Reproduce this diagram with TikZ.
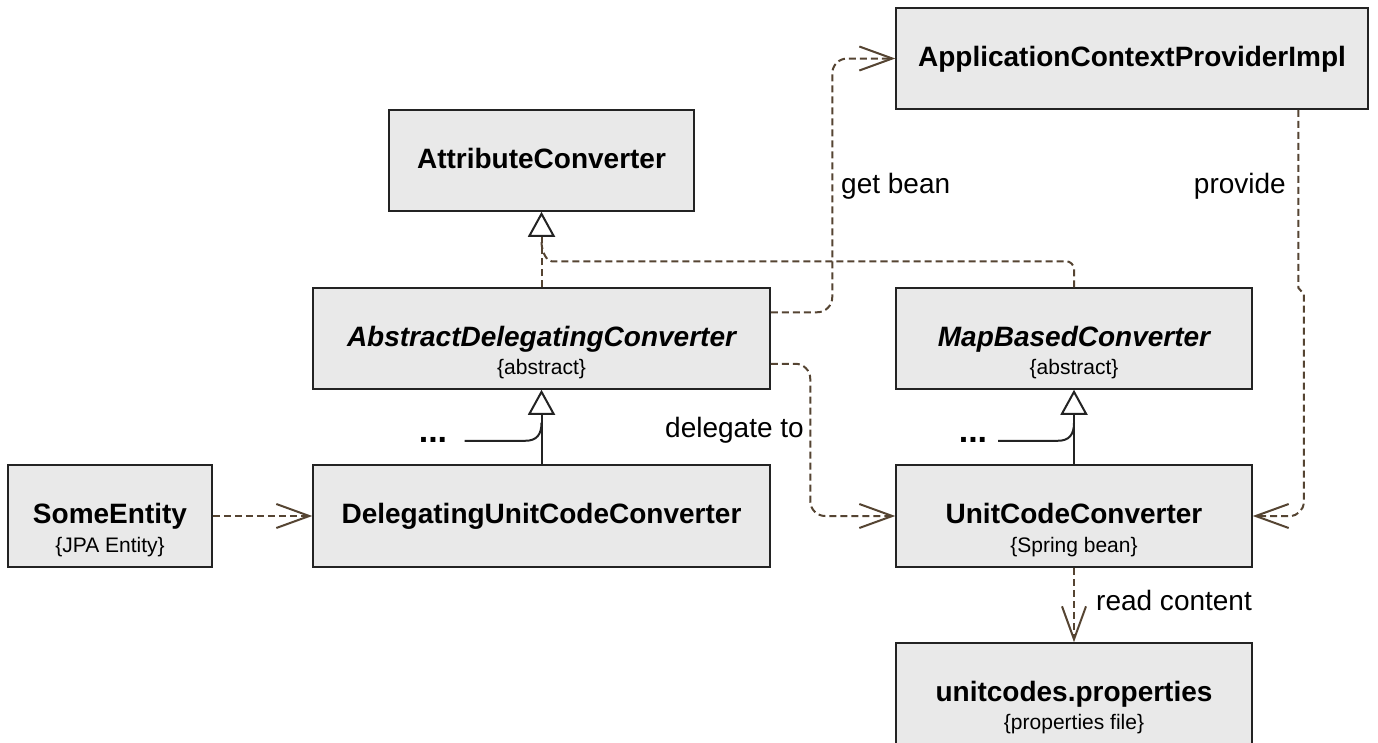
\documentclass[tikz,border=0pt]{standalone}
\usepackage{fontspec}
\setmainfont{Liberation Sans}
\usetikzlibrary{arrows.meta,calc}
\definecolor{boxfill}{RGB}{233,233,233}
\definecolor{boxline}{RGB}{35,35,35}
\definecolor{depcol}{RGB}{85,68,50}
\begin{document}
\begin{tikzpicture}[x=1pt,y=-1pt,
 box/.style={draw=boxline, fill=boxfill, line width=1.5pt, rectangle, inner sep=0pt},
 ttl/.style={font=\fontsize{28}{32}\selectfont\bfseries, anchor=base, inner sep=0pt},
 ster/.style={font=\fontsize{21}{24}\selectfont, anchor=base, inner sep=0pt},
 lbl/.style={font=\fontsize{28}{32}\selectfont, inner sep=0pt},
 dep/.style={draw=depcol, line width=2pt, dash pattern=on 7pt off 4pt},
 barb/.style={-{Straight Barb[length=33pt,width=24pt]}},
 gentip/.style={-{Triangle[length=25pt,width=27pt,color=boxline,fill=white]}},
 solidln/.style={draw=boxline, line width=2pt},
 dotsty/.style={font=\fontsize{34}{36}\selectfont\bfseries, anchor=base, inner sep=0pt}
]
\useasboundingbox (0,0) rectangle (1378,742);

% boxes
\node[box, minimum width=305pt, minimum height=101pt] (attr) at (541.5,160.5) {};
\node[ttl] (attrT) at (541.5,168) {AttributeConverter};

\node[box, minimum width=472pt, minimum height=101pt] (app) at (1132,58.5) {};
\node[ttl] (appT) at (1132,66) {ApplicationContextProviderImpl};

\node[box, minimum width=457pt, minimum height=101pt] (ab) at (541.5,338.5) {};
\node[ttl] (abT) at (541.5,346) {\itshape AbstractDelegatingConverter};
\node[ster] (abS) at (541.5,374) {\{abstract\}};

\node[box, minimum width=356pt, minimum height=101pt] (map) at (1074,338.5) {};
\node[ttl] (mapT) at (1074,346) {\itshape MapBasedConverter};
\node[ster] (mapS) at (1074,374) {\{abstract\}};

\node[box, minimum width=204pt, minimum height=102pt] (some) at (110,516) {};
\node[ttl] (someT) at (110,523) {SomeEntity};
\node[ster] (someS) at (110,552) {\{JPA Entity\}};

\node[box, minimum width=457pt, minimum height=102pt] (duc) at (541.5,516) {};
\node[ttl] (ducT) at (541.5,523) {DelegatingUnitCodeConverter};

\node[box, minimum width=356pt, minimum height=102pt] (ucc) at (1074,516) {};
\node[ttl] (uccT) at (1074,523) {UnitCodeConverter};
\node[ster] (uccS) at (1074,552) {\{Spring bean\}};

\node[box, minimum width=356pt, minimum height=102pt] (props) at (1074,694) {};
\node[ttl] (propsT) at (1074,701) {unitcodes.properties};
\node[ster] (propsS) at (1074,729) {\{properties file\}};

% generalizations to AttributeConverter
\draw[dep, gentip] (ab.north) -- (attr.south);
\draw[dep, rounded corners=8pt] (map.north) |- ($(ab.north)+(18,-26)$)
  .. controls ($(ab.north)+(6,-26)$) and ($(ab.north)+(0,-34)$) .. ($(ab.north)+(0,-46)$);

% generalizations with dots
\node[dotsty] (d1) at (433,442) {...};
\draw[solidln, gentip] (duc.north) -- (ab.south);
\draw[solidln] ($(ab.south)+(-77,51)$) -- ($(ab.south)+(-16,51)$)
  .. controls ($(ab.south)+(-5,51)$) and ($(ab.south)+(0,45)$) .. ($(ab.south)+(0,33)$);

\node[dotsty] (d2) at (973,442) {...};
\draw[solidln, gentip] (ucc.north) -- (map.south);
\draw[solidln] ($(map.south)+(-76,51)$) -- ($(map.south)+(-16,51)$)
  .. controls ($(map.south)+(-5,51)$) and ($(map.south)+(0,45)$) .. ($(map.south)+(0,33)$);

% dependencies
\draw[dep, barb] (some.east) -- (duc.west);
\draw[dep, barb, rounded corners=15pt] ($(ab.north east)+(0,25)$) -| ($(app.west)+(-63,0)$) -- (app.west);
\draw[dep, barb, rounded corners=15pt] ($(ab.south east)+(0,-26)$) -| ($(ucc.west)+(-85,0)$) -- (ucc.west);
\draw[dep, barb] ($(app.south west)+(403,0)$) -- ($(app.south west)+(403,178)$) -- ($(ucc.east)+(51,-222)$)
  [rounded corners=14pt] -- ($(ucc.east)+(51,0)$) -- (ucc.east);
\draw[dep, barb] (ucc.south) -- (props.north);

% labels
\node[lbl, anchor=base west] (lget) at (841,193) {get bean};
\node[lbl, anchor=base east] (lprov) at (1286,193) {provide};
\node[lbl, anchor=base east] (ldel) at (804,437) {delegate to};
\node[lbl, anchor=base west] (lread) at (1096,610) {read content};
\end{tikzpicture}
\end{document}
